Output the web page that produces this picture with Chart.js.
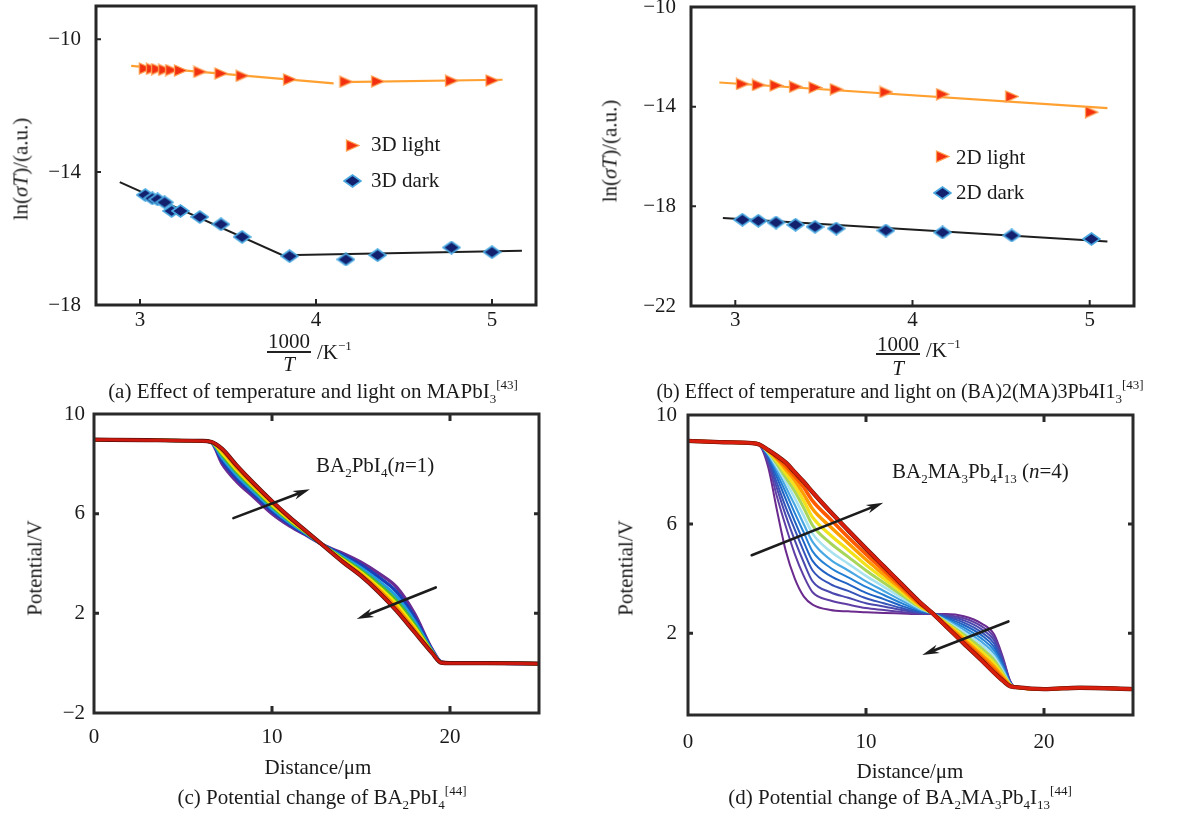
<!DOCTYPE html>
<html><head><meta charset="utf-8">
<script src="https://cdn.jsdelivr.net/npm/chart.js@4.4.1/dist/chart.umd.min.js"></script>
<style>
html,body{margin:0;padding:0;background:#fff}
body{width:1178px;height:817px;position:relative;overflow:hidden;font-family:'Liberation Serif','Times New Roman',serif;color:#1a1a1a}
canvas{position:absolute}
.t{position:absolute;white-space:nowrap;font-size:21px;line-height:21px}
.cap{position:absolute;white-space:nowrap;font-size:21px;line-height:21px;transform:translate(-50%,-50%)}
.yt{position:absolute;white-space:nowrap;font-size:21px;line-height:21px;transform:translate(-50%,-50%) rotate(-90deg)}
.sb{font-size:13px;position:relative;top:5px}
.sp{font-size:13px;position:relative;top:-9px}
.bar{position:absolute;height:1.5px;background:#222}
</style></head><body>
<canvas id="ca" width="560" height="340" style="left:0;top:0"></canvas>
<canvas id="cb" width="570" height="340" style="left:590px;top:0"></canvas>
<canvas id="cc" width="560" height="360" style="left:0;top:400px"></canvas>
<canvas id="cd" width="570" height="360" style="left:590px;top:400px"></canvas>

<!-- panel a texts -->
<div class="yt" style="left:21px;top:169px">ln(<i>σT</i>)/(a.u.)</div>
<div class="t" style="left:371px;top:134px">3D light</div>
<div class="t" style="left:371px;top:170px">3D dark</div>
<div class="cap" style="left:289px;top:341px">1000</div>
<div class="bar" style="left:267px;top:351px;width:44px"></div>
<div class="cap" style="left:289px;top:364px"><i>T</i></div>
<div class="t" style="left:317px;top:342px">/K<span class="sp">−1</span></div>
<div class="cap" style="left:313px;top:392px">(a) Effect of temperature and light on MAPbI<span class="sb">3</span><span class="sp">[43]</span></div>

<!-- panel b texts -->
<div class="yt" style="left:610px;top:151px">ln(<i>σT</i>)/(a.u.)</div>
<div class="t" style="left:956px;top:147px">2D light</div>
<div class="t" style="left:956px;top:182px">2D dark</div>
<div class="cap" style="left:898px;top:344px">1000</div>
<div class="bar" style="left:876px;top:353px;width:44px"></div>
<div class="cap" style="left:898px;top:368px"><i>T</i></div>
<div class="t" style="left:926px;top:340px">/K<span class="sp">−1</span></div>
<div class="cap" style="left:900px;top:392px;font-size:20px">(b) Effect of temperature and light on (BA)2(MA)3Pb4I1<span class="sb">3</span><span class="sp">[43]</span></div>

<!-- panel c texts -->
<div class="yt" style="left:35px;top:568px">Potential/V</div>
<div class="t" style="left:316px;top:455px">BA<span class="sb">2</span>PbI<span class="sb">4</span>(<i>n</i>=1)</div>
<div class="cap" style="left:318px;top:767px">Distance/μm</div>
<div class="cap" style="left:322px;top:798px">(c) Potential change of BA<span class="sb">2</span>PbI<span class="sb">4</span><span class="sp">[44]</span></div>

<!-- panel d texts -->
<div class="yt" style="left:626px;top:568px">Potential/V</div>
<div class="t" style="left:892px;top:461px">BA<span class="sb">2</span>MA<span class="sb">3</span>Pb<span class="sb">4</span>I<span class="sb">13</span> (<i>n</i>=4)</div>
<div class="cap" style="left:910px;top:771px">Distance/μm</div>
<div class="cap" style="left:900px;top:798px">(d) Potential change of BA<span class="sb">2</span>MA<span class="sb">3</span>Pb<span class="sb">4</span>I<span class="sb">13</span><span class="sp">[44]</span></div>

<script>
// ---------------- DATA ----------------
// (a) MAPbI3
const aX = [3.03, 3.07, 3.10, 3.14, 3.18, 3.23, 3.34, 3.46, 3.58, 3.85, 4.17, 4.35, 4.77, 5.00];
const aLightY = [-10.88, -10.89, -10.90, -10.92, -10.93, -10.94, -10.98, -11.03, -11.10, -11.21, -11.28, -11.27, -11.25, -11.24];
const aDarkY = [-14.69, -14.79, -14.82, -14.91, -15.17, -15.17, -15.35, -15.57, -15.95, -16.53, -16.63, -16.50, -16.27, -16.41];
const aLightFit1X = [2.95, 4.10], aLightFit1Y = [-10.80, -11.33];
const aLightFit2X = [4.14, 5.06], aLightFit2Y = [-11.29, -11.22];
const aDarkFitX = [2.885, 3.81, 5.17], aDarkFitY = [-14.30, -16.50, -16.37];
const aLegendX = [4.21, 4.21], aLegendY = [-13.2, -14.28];

// (b) (BA)2(MA)3Pb4I13
const bX = [3.04, 3.13, 3.23, 3.34, 3.45, 3.57, 3.85, 4.17, 4.56, 5.01];
const bLightY = [-13.09, -13.13, -13.15, -13.20, -13.23, -13.30, -13.41, -13.50, -13.59, -14.22];
const bDarkY = [-18.54, -18.58, -18.65, -18.74, -18.82, -18.89, -18.97, -19.05, -19.17, -19.31];
const bLightFitX = [2.91, 5.10], bLightFitY = [-13.03, -14.06];
const bDarkFitX = [2.93, 5.10], bDarkFitY = [-18.47, -19.41];
const bLegendX = [4.17, 4.17], bLegendY = [-16.01, -17.45];

// (c) BA2PbI4 potential profiles (violet -> red)
const cX = [0, 3, 6, 6.6, 7.2, 8, 9, 10, 11, 12, 13, 14, 15, 16, 17, 18, 19, 19.5, 20, 22, 25];
const cViolet = [8.97, 8.95, 8.92, 8.85, 8.00, 7.30, 6.65, 6.00, 5.50, 5.10, 4.70, 4.40, 4.05, 3.60, 3.05, 2.00, 0.55, 0.05, 0, 0, -0.02];
const cBlue   = [8.97, 8.95, 8.92, 8.86, 8.12, 7.43, 6.76, 6.10, 5.57, 5.13, 4.69, 4.33, 3.94, 3.45, 2.86, 1.85, 0.52, 0.04, 0, 0, -0.02];
const cCyan   = [8.97, 8.95, 8.92, 8.86, 8.24, 7.56, 6.87, 6.20, 5.64, 5.16, 4.68, 4.26, 3.83, 3.30, 2.67, 1.70, 0.49, 0.04, 0, 0, -0.02];
const cGreen  = [8.97, 8.95, 8.92, 8.87, 8.35, 7.68, 6.97, 6.29, 5.70, 5.19, 4.67, 4.20, 3.73, 3.17, 2.50, 1.57, 0.46, 0.03, 0, 0, -0.02];
const cYellow = [8.97, 8.95, 8.92, 8.87, 8.43, 7.77, 7.05, 6.36, 5.75, 5.21, 4.66, 4.15, 3.65, 3.06, 2.37, 1.46, 0.44, 0.03, 0, 0, -0.02];
const cOrange = [8.97, 8.95, 8.92, 8.88, 8.52, 7.86, 7.12, 6.43, 5.80, 5.23, 4.66, 4.10, 3.58, 2.96, 2.23, 1.36, 0.42, 0.02, 0, 0, -0.02];
const cRed    = [8.97, 8.95, 8.92, 8.88, 8.60, 7.95, 7.20, 6.50, 5.85, 5.25, 4.65, 4.05, 3.50, 2.85, 2.10, 1.25, 0.40, 0.02, 0, 0, -0.02];
const cArrowFromX = [7.83, 19.2], cArrowFromY = [5.82, 3.04];
const cArrowToX = [12.13, 14.76], cArrowToY = [6.98, 1.77];

// (d) BA2MA3Pb4I13 potential profiles (violet -> red)
const dX = [0, 2, 3.6, 4.0, 4.5, 5, 5.5, 6, 6.5, 7, 8, 9, 10, 11, 12, 13, 13.7, 14.5, 15.5, 16.5, 17.2, 17.7, 18.1, 18.4, 20, 22, 25];
const d0  = [9.05, 9.0, 8.97, 8.90, 8.10, 6.50, 5.00, 4.00, 3.35, 3.05, 2.85, 2.80, 2.77, 2.74, 2.72, 2.70, 2.70, 2.70, 2.62, 2.35, 1.95, 1.10, 0.25, 0.02, -0.05, 0, -0.05];
const d1  = [9.05, 9.0, 8.97, 8.90, 8.25, 7.00, 5.90, 4.90, 4.10, 3.50, 3.20, 3.05, 2.92, 2.85, 2.78, 2.72, 2.71, 2.67, 2.55, 2.25, 1.84, 1.03, 0.23, 0.02, -0.05, 0, -0.05];
const d2  = [9.05, 9.0, 8.97, 8.90, 8.35, 7.30, 6.30, 5.40, 4.60, 3.90, 3.50, 3.30, 3.10, 2.98, 2.85, 2.74, 2.72, 2.63, 2.47, 2.14, 1.73, 0.96, 0.21, 0.02, -0.05, 0, -0.05];
const d3  = [9.05, 9.0, 8.97, 8.90, 8.42, 7.50, 6.60, 5.80, 5.00, 4.30, 3.80, 3.55, 3.28, 3.10, 2.92, 2.77, 2.72, 2.60, 2.39, 2.03, 1.61, 0.89, 0.20, 0.02, -0.05, 0, -0.05];
const d4  = [9.05, 9.0, 8.97, 8.91, 8.48, 7.70, 6.90, 6.10, 5.35, 4.65, 4.10, 3.80, 3.48, 3.25, 3.00, 2.80, 2.72, 2.56, 2.30, 1.92, 1.49, 0.82, 0.18, 0.02, -0.05, 0, -0.05];
const d5  = [9.05, 9.0, 8.97, 8.91, 8.53, 7.85, 7.15, 6.40, 5.70, 5.00, 4.40, 4.05, 3.70, 3.40, 3.10, 2.84, 2.73, 2.52, 2.21, 1.80, 1.37, 0.75, 0.17, 0.02, -0.05, 0, -0.05];
const d6  = [9.05, 9.0, 8.97, 8.91, 8.57, 8.00, 7.35, 6.70, 6.00, 5.35, 4.70, 4.30, 3.90, 3.55, 3.20, 2.88, 2.73, 2.48, 2.12, 1.68, 1.25, 0.68, 0.15, 0.02, -0.05, 0, -0.05];
const d7  = [9.05, 9.0, 8.97, 8.91, 8.61, 8.10, 7.55, 6.95, 6.30, 5.65, 5.00, 4.55, 4.10, 3.70, 3.30, 2.92, 2.73, 2.44, 2.03, 1.56, 1.13, 0.60, 0.13, 0.02, -0.05, 0, -0.05];
const d8  = [9.05, 9.0, 8.97, 8.92, 8.64, 8.20, 7.70, 7.20, 6.60, 5.95, 5.30, 4.80, 4.30, 3.85, 3.40, 2.96, 2.74, 2.40, 1.94, 1.44, 1.01, 0.52, 0.12, 0.02, -0.05, 0, -0.05];
const d9  = [9.05, 9.0, 8.97, 8.92, 8.67, 8.30, 7.85, 7.40, 6.85, 6.25, 5.60, 5.05, 4.50, 4.00, 3.50, 3.00, 2.74, 2.36, 1.86, 1.32, 0.89, 0.45, 0.10, 0.02, -0.05, 0, -0.05];
const d10 = [9.05, 9.0, 8.97, 8.92, 8.69, 8.38, 8.00, 7.60, 7.10, 6.55, 5.90, 5.30, 4.70, 4.15, 3.60, 3.05, 2.74, 2.32, 1.78, 1.20, 0.77, 0.38, 0.09, 0.02, -0.05, 0, -0.05];
const d11 = [9.05, 9.0, 8.97, 8.92, 8.71, 8.44, 8.12, 7.75, 7.35, 6.85, 6.18, 5.52, 4.90, 4.30, 3.70, 3.10, 2.75, 2.28, 1.70, 1.10, 0.66, 0.31, 0.07, 0.02, -0.05, 0, -0.05];
const d12 = [9.05, 9.0, 8.97, 8.92, 8.72, 8.50, 8.25, 7.90, 7.55, 7.17, 6.45, 5.77, 5.10, 4.45, 3.80, 3.15, 2.75, 2.25, 1.62, 1.00, 0.55, 0.25, 0.05, 0.02, -0.05, 0, -0.05];
const dArrowFromX = [3.58, 18.0], dArrowFromY = [4.86, 2.43];
const dArrowToX = [10.97, 13.16], dArrowToY = [6.78, 1.2];

// ---------------- STYLE / HELPERS ----------------
const FONT = {family: "'Liberation Serif','Times New Roman',serif", size: 21};
const near = (a, b) => Math.abs(a - b) < 1e-6;
const isMult = (v, m) => near(v / m, Math.round(v / m));
const fmt = v => (v < 0 ? '\u2212' + Math.abs(v) : String(v));
const pts = (xs, ys) => xs.map((x, i) => ({x: x, y: ys[i]}));

function triImg() {
  const c = document.createElement('canvas'); c.width = 15; c.height = 13;
  const g = c.getContext('2d');
  g.beginPath(); g.moveTo(1.5, 1); g.lineTo(14, 6.5); g.lineTo(1.5, 12); g.closePath();
  g.fillStyle = '#f2300f'; g.fill(); g.strokeStyle = '#ffa050'; g.lineWidth = 1.3; g.stroke();
  return c;
}
function diaImg() {
  const c = document.createElement('canvas'); c.width = 19; c.height = 14;
  const g = c.getContext('2d');
  g.beginPath(); g.moveTo(1, 7); g.lineTo(9.5, 1); g.lineTo(18, 7); g.lineTo(9.5, 13); g.closePath();
  g.fillStyle = '#13206e'; g.fill(); g.strokeStyle = '#4aa8e0'; g.lineWidth = 1.7; g.stroke();
  return c;
}
const TRI = triImg(), DIA = diaImg();

function xAxis(min, max, step, every, pad, h) {
  return {
    type: 'linear', min: min, max: max,
    grid: {display: false, drawTicks: false}, border: {display: false},
    ticks: {stepSize: step, autoSkip: false, maxRotation: 0, padding: pad, color: '#1a1a1a', font: FONT,
      callback: v => (isMult(v, every) ? fmt(v) : null)},
    afterFit: s => { s.height = h; s.paddingLeft = s.paddingRight = s.paddingTop = s.paddingBottom = 0; }
  };
}
function yAxis(min, max, step, labelFn, pad, w) {
  return {
    type: 'linear', min: min, max: max,
    grid: {display: false, drawTicks: false}, border: {display: false},
    ticks: {stepSize: step, autoSkip: false, padding: pad, color: '#1a1a1a', font: FONT,
      callback: v => (labelFn(v) ? fmt(v) : null)},
    afterFit: s => { s.width = w; s.paddingLeft = s.paddingRight = s.paddingTop = s.paddingBottom = 0; }
  };
}

const framePlugin = {
  id: 'frame',
  afterDatasetsDraw(chart, args, o) {
    if (!o || !o.on) return;
    const ctx = chart.ctx, a = chart.chartArea, xs = chart.scales.x, ys = chart.scales.y;
    ctx.save();
    ctx.strokeStyle = o.color; ctx.lineWidth = o.tw;
    ctx.beginPath();
    xs.ticks.forEach(t => {
      if (t.value <= xs.min + 1e-9 || t.value >= xs.max - 1e-9) return;
      const p = xs.getPixelForValue(t.value);
      const L = isMult(t.value, o.xMajor) ? o.tlMajor : o.tlMinor;
      ctx.moveTo(p, a.bottom); ctx.lineTo(p, a.bottom - L);
      if (o.all) { ctx.moveTo(p, a.top); ctx.lineTo(p, a.top + L); }
    });
    ys.ticks.forEach(t => {
      if (t.value <= ys.min + 1e-9 || t.value >= ys.max - 1e-9) return;
      const p = ys.getPixelForValue(t.value);
      ctx.moveTo(a.left, p); ctx.lineTo(a.left + o.tlY, p);
      if (o.all) { ctx.moveTo(a.right, p); ctx.lineTo(a.right - o.tlY, p); }
    });
    ctx.stroke();
    ctx.lineWidth = o.bw;
    ctx.strokeRect(a.left, a.top, a.right - a.left, a.bottom - a.top);
    ctx.restore();
  }
};
const arrowPlugin = {
  id: 'arrows',
  afterDatasetsDraw(chart, args, o) {
    if (!o || !o.fx) return;
    const ctx = chart.ctx, xs = chart.scales.x, ys = chart.scales.y;
    ctx.save(); ctx.fillStyle = '#1c1c1c'; ctx.strokeStyle = '#1c1c1c';
    o.fx.forEach((fx, i) => {
      const x0 = xs.getPixelForValue(fx), y0 = ys.getPixelForValue(o.fy[i]);
      const x1 = xs.getPixelForValue(o.tx[i]), y1 = ys.getPixelForValue(o.ty[i]);
      const ang = Math.atan2(y1 - y0, x1 - x0), c = Math.cos(ang), s = Math.sin(ang);
      const hl = 17, hw = 4.5;
      const bx = x1 - hl * c, by = y1 - hl * s;
      ctx.lineWidth = 2.6; ctx.lineCap = 'round';
      ctx.beginPath(); ctx.moveTo(x0, y0); ctx.lineTo(bx + 4 * c, by + 4 * s); ctx.stroke();
      ctx.beginPath();
      ctx.moveTo(x1, y1);
      ctx.lineTo(bx - hw * s, by + hw * c);
      ctx.lineTo(bx + 5 * c, by + 5 * s);
      ctx.lineTo(bx + hw * s, by - hw * c);
      ctx.closePath(); ctx.fill();
    });
    ctx.restore();
  }
};
const legendPlugin = {
  id: 'mlegend',
  afterDatasetsDraw(chart, args, o) {
    if (!o || !o.xs) return;
    const ctx = chart.ctx, xs = chart.scales.x, ys = chart.scales.y;
    o.xs.forEach((x, i) => {
      const img = o.imgs[i];
      const px = xs.getPixelForValue(x), py = ys.getPixelForValue(o.ys[i]);
      ctx.drawImage(img, Math.round(px - img.width / 2), Math.round(py - img.height / 2));
    });
  }
};
Chart.register(framePlugin, arrowPlugin, legendPlugin);

function baseOpts(pad, scales, plugins) {
  return {
    responsive: false, animation: false, devicePixelRatio: 1, events: [],
    layout: {padding: pad},
    scales: scales,
    plugins: Object.assign({legend: {display: false}, tooltip: {enabled: false}}, plugins)
  };
}
const lineDS = (xs, ys, color, w, order) => ({data: pts(xs, ys), showLine: true, borderColor: color, borderWidth: w, pointRadius: 0, fill: false, order: order});
const ptDS = (xs, ys, img, order) => ({data: pts(xs, ys), showLine: false, pointStyle: img, pointRadius: 5, order: order});
const curveDS = (xs, ys, color, w, order) => ({data: pts(xs, ys), showLine: true, borderColor: color, borderWidth: w, pointRadius: 0, fill: false, cubicInterpolationMode: 'monotone', order: order});

const lblLn = v => isMult(v + 10, 4);
const lblPot = v => isMult(10 - v, 4);

// (a)
new Chart(document.getElementById('ca'), {
  type: 'scatter',
  data: {datasets: [
    ptDS(aX, aLightY, TRI, 0), ptDS(aX, aDarkY, DIA, 0),
    lineDS(aLightFit1X, aLightFit1Y, '#ffa030', 2.2, 1),
    lineDS(aLightFit2X, aLightFit2Y, '#ffa030', 2.2, 1),
    lineDS(aDarkFitX, aDarkFitY, '#1e1e1e', 2, 1)
  ]},
  options: baseOpts({left: 0, right: 24, top: 5, bottom: 0},
    {x: xAxis(2.75, 5.25, 0.25, 1, 3, 35), y: yAxis(-18, -9, 1, lblLn, 15, 96)},
    {frame: {on: true, all: false, color: '#262626', tw: 2, bw: 3, tlMajor: 6, tlMinor: 3, xMajor: 0.5, tlY: 5},
     mlegend: {xs: aLegendX, ys: aLegendY, imgs: [TRI, DIA]}})
});

// (b)
new Chart(document.getElementById('cb'), {
  type: 'scatter',
  data: {datasets: [
    ptDS(bX, bLightY, TRI, 0), ptDS(bX, bDarkY, DIA, 0),
    lineDS(bLightFitX, bLightFitY, '#ffa030', 2.2, 1),
    lineDS(bDarkFitX, bDarkFitY, '#1e1e1e', 2, 1)
  ]},
  options: baseOpts({left: 0, right: 26, top: 7, bottom: 0},
    {x: xAxis(2.75, 5.25, 0.25, 1, 2, 34), y: yAxis(-22, -10, 1, lblLn, 15, 101)},
    {frame: {on: true, all: false, color: '#262626', tw: 2, bw: 3, tlMajor: 6, tlMinor: 3, xMajor: 0.5, tlY: 5},
     mlegend: {xs: bLegendX, ys: bLegendY, imgs: [TRI, DIA]}})
});

// (c)
const cCurves = [cRed, cRed, cOrange, cYellow, cGreen, cCyan, cBlue, cViolet];
const cColors = ['#cc180e', '#4a0e0a', '#ff8a00', '#f2e600', '#46b83c', '#1e9de0', '#1b3fb8', '#6a2c91'];
const cWidths = [3, 4.2, 3.2, 3.2, 3.2, 3.2, 3.4, 3.4];
new Chart(document.getElementById('cc'), {
  type: 'scatter',
  data: {datasets: cCurves.map((ys, i) => curveDS(cX, ys, cColors[i], cWidths[i], i))},
  options: baseOpts({left: 0, right: 21, top: 14, bottom: 0},
    {x: xAxis(0, 25, 2.5, 10, 12, 47), y: yAxis(-2, 10, 1, lblPot, 9, 94)},
    {frame: {on: true, all: true, color: '#2a2a2a', tw: 3, bw: 3, tlMajor: 7, tlMinor: 4, xMajor: 5, tlY: 5},
     arrows: {fx: cArrowFromX, fy: cArrowFromY, tx: cArrowToX, ty: cArrowToY}})
});

// (d)
const dCurves = [d12, d12, d11, d10, d9, d8, d7, d6, d5, d4, d3, d2, d1, d0];
const dColors = ['#d81e0c', '#5a120a', '#ff5a00', '#ff9c00', '#f2e21c', '#a8d65a', '#a8e2ee', '#49a8e4', '#2380d4', '#2062c4', '#3553b8', '#4a48ae', '#5e3ea4', '#6a2a8e'];
const dWidths = [3.4, 4.4, 3.6, 3.4, 3.2, 3, 2.6, 2.2, 2, 2, 2, 2, 2, 2];
new Chart(document.getElementById('cd'), {
  type: 'scatter',
  data: {datasets: dCurves.map((ys, i) => curveDS(dX, ys, dColors[i], dWidths[i], i))},
  options: baseOpts({left: 0, right: 27, top: 15, bottom: 0},
    {x: xAxis(0, 25, 2.5, 10, 15, 45), y: yAxis(-1, 10, 1, lblPot, 11, 98)},
    {frame: {on: true, all: true, color: '#2a2a2a', tw: 3, bw: 3, tlMajor: 7, tlMinor: 4, xMajor: 5, tlY: 5},
     arrows: {fx: dArrowFromX, fy: dArrowFromY, tx: dArrowToX, ty: dArrowToY}})
});
</script>
</body></html>
